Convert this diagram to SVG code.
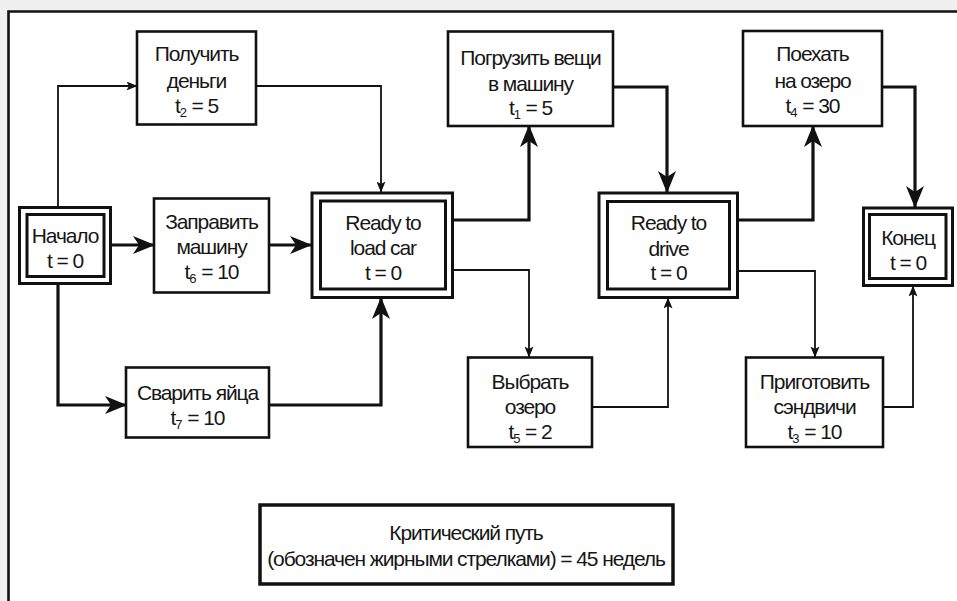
<svg xmlns="http://www.w3.org/2000/svg" width="957" height="601" viewBox="0 0 957 601">
  <style>
    .box { fill: #ffffff; stroke: #111111; stroke-width: 2.6; }
    .dbl { fill: #ffffff; stroke: #111111; stroke-width: 3; }
    .lbl { font-family: "Liberation Sans", Arial, sans-serif; font-size: 21px; letter-spacing: -1.1px; fill: #161616; text-anchor: middle; }
    .sub { font-size: 13px; letter-spacing: 0; }
    .thin { fill: none; stroke: #111111; stroke-width: 1.8; marker-end: url(#arrowThin); }
    .thick { fill: none; stroke: #111111; stroke-width: 3.2; marker-end: url(#arrowThick); }
  </style>
  <defs>
    <marker id="arrowThick" markerUnits="userSpaceOnUse" viewBox="0 0 22 18" markerWidth="22" markerHeight="18" refX="21" refY="9" orient="auto">
      <path d="M0,0 L22,9 L0,18 L6,9 Z" fill="#111111"/>
    </marker>
    <marker id="arrowThin" markerUnits="userSpaceOnUse" viewBox="0 0 11 9" markerWidth="11" markerHeight="9" refX="10.5" refY="4.5" orient="auto">
      <path d="M0,0 L11,4.5 L0,9 L2.5,4.5 Z" fill="#111111"/>
    </marker>
  </defs>

  <!-- page background and frame -->
  <rect x="0" y="0" width="957" height="601" fill="#f0f0f0"/>
  <rect x="8" y="11" width="949" height="590" fill="#ffffff"/>
  <path d="M8.5,601 V11.5 H957" fill="none" stroke="#111111" stroke-width="2.6"/>

  <!-- connectors -->
  <g id="connectors">
    <path class="thin" d="M58,206 V86 H137"/>
    <path class="thin" d="M256,86 H381 V192"/>
    <path class="thin" d="M453,270 H529 V357"/>
    <path class="thin" d="M592,407 H668 V298"/>
    <path class="thin" d="M738,271 H815 V357"/>
    <path class="thin" d="M883,407 H913 V286"/>

    <path class="thick" d="M111,245 H154"/>
    <path class="thick" d="M269,245 H311"/>
    <path class="thick" d="M58,283 V405 H126"/>
    <path class="thick" d="M269,405 H381 V298"/>
    <path class="thick" d="M453,220 H529 V126"/>
    <path class="thick" d="M613,87 H667 V192"/>
    <path class="thick" d="M738,220 H813 V126"/>
    <path class="thick" d="M882,87 H915 V207"/>
  </g>

  <!-- nodes -->
  <g id="start">
    <rect class="dbl" x="19.5" y="207.5" width="91" height="76"/>
    <rect class="dbl" x="27" y="214.5" width="77" height="62"/>
    <text class="lbl" x="65" y="242.5">Начало</text>
    <text class="lbl" x="65" y="267.5">t = 0</text>
  </g>

  <g id="get-money">
    <rect class="box" x="137" y="31.5" width="119" height="93"/>
    <text class="lbl" x="196.5" y="60.5">Получить</text>
    <text class="lbl" x="196.5" y="87.5">деньги</text>
    <text class="lbl" x="196.5" y="112.5">t<tspan class="sub" dy="4">2</tspan><tspan dy="-4"> = 5</tspan></text>
  </g>

  <g id="fuel-car">
    <rect class="box" x="154" y="198.5" width="115" height="94"/>
    <text class="lbl" x="211.5" y="228.5">Заправить</text>
    <text class="lbl" x="211.5" y="253.5">машину</text>
    <text class="lbl" x="211.5" y="278.5">t<tspan class="sub" dy="4">6</tspan><tspan dy="-4"> = 10</tspan></text>
  </g>

  <g id="boil-eggs">
    <rect class="box" x="126" y="367.5" width="143" height="70"/>
    <text class="lbl" x="197.5" y="399.5">Сварить яйца</text>
    <text class="lbl" x="197.5" y="424.5">t<tspan class="sub" dy="4">7</tspan><tspan dy="-4"> = 10</tspan></text>
  </g>

  <g id="ready-load">
    <rect class="dbl" x="312" y="193" width="140.5" height="104.5"/>
    <rect class="dbl" x="320.5" y="201" width="125" height="88"/>
    <text class="lbl" x="383" y="229.5">Ready to</text>
    <text class="lbl" x="383" y="254.5">load car</text>
    <text class="lbl" x="383" y="279.5">t = 0</text>
  </g>

  <g id="load-things">
    <rect class="box" x="448" y="31.5" width="165" height="94.5"/>
    <text class="lbl" x="530.5" y="64.5">Погрузить вещи</text>
    <text class="lbl" x="530.5" y="90.5">в машину</text>
    <text class="lbl" x="530.5" y="114.5">t<tspan class="sub" dy="4">1</tspan><tspan dy="-4"> = 5</tspan></text>
  </g>

  <g id="choose-lake">
    <rect class="box" x="468" y="357.5" width="124" height="89.5"/>
    <text class="lbl" x="530" y="388.5">Выбрать</text>
    <text class="lbl" x="530" y="413.5">озеро</text>
    <text class="lbl" x="530" y="438.5">t<tspan class="sub" dy="4">5</tspan><tspan dy="-4"> = 2</tspan></text>
  </g>

  <g id="ready-drive">
    <rect class="dbl" x="599" y="193" width="138.5" height="104.5"/>
    <rect class="dbl" x="607.5" y="201.5" width="122" height="87.5"/>
    <text class="lbl" x="668.5" y="229.5">Ready to</text>
    <text class="lbl" x="668.5" y="255.5">drive</text>
    <text class="lbl" x="668.5" y="279.5">t = 0</text>
  </g>

  <g id="drive-lake">
    <rect class="box" x="743" y="31" width="139" height="95"/>
    <text class="lbl" x="812.5" y="60.5">Поехать</text>
    <text class="lbl" x="812.5" y="87.5">на озеро</text>
    <text class="lbl" x="812.5" y="112.5">t<tspan class="sub" dy="4">4</tspan><tspan dy="-4"> = 30</tspan></text>
  </g>

  <g id="make-sandwiches">
    <rect class="box" x="746" y="357.5" width="137" height="89.5"/>
    <text class="lbl" x="814.5" y="388.5">Приготовить</text>
    <text class="lbl" x="814.5" y="413.5">сэндвичи</text>
    <text class="lbl" x="814.5" y="438.5">t<tspan class="sub" dy="4">3</tspan><tspan dy="-4"> = 10</tspan></text>
  </g>

  <g id="end">
    <rect class="dbl" x="863.5" y="208" width="89" height="77.5"/>
    <rect class="dbl" x="869.5" y="214.5" width="76.5" height="64"/>
    <text class="lbl" x="908" y="244.5">Конец</text>
    <text class="lbl" x="908" y="269.5">t = 0</text>
  </g>

  <g id="legend">
    <rect x="260" y="505" width="413" height="79" fill="#ffffff" stroke="#111111" stroke-width="3.5"/>
    <text class="lbl" x="466" y="539.5">Критический путь</text>
    <text class="lbl" x="466" y="565.5">(обозначен жирными стрелками) = 45 недель</text>
  </g>
</svg>
